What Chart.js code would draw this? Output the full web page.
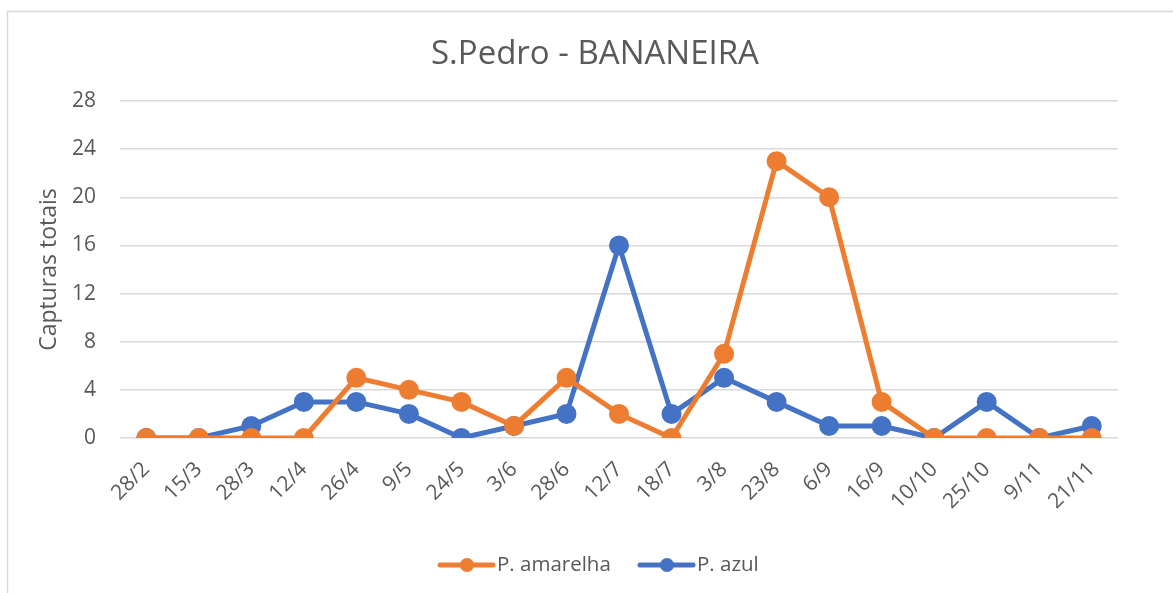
<!DOCTYPE html>
<html>
<head>
<meta charset="utf-8">
<script src="https://cdn.jsdelivr.net/npm/chart.js@4"></script>
<style>
  html, body { margin: 0; padding: 0; background: #fff; }
  #zone { width: 1173px; height: 593px; position: relative; }
</style>
</head>
<body>
<div id="zone"><canvas id="graphique"></canvas></div>
<script>
// dados
const datas = ['28/2', '15/3', '28/3', '12/4', '26/4', '9/5', '24/5', '3/6', '28/6', '12/7',
               '18/7', '3/8', '23/8', '6/9', '16/9', '10/10', '25/10', '9/11', '21/11'];
const amarelha = [0, 0, 0, 0, 5, 4, 3, 1, 5, 2, 0, 7, 23, 20, 3, 0, 0, 0, 0];
const azul = [0, 0, 1, 3, 3, 2, 0, 1, 2, 16, 2, 5, 3, 1, 1, 0, 3, 0, 1];
const ticksY = [0, 4, 8, 12, 16, 20, 24, 28];

const titulo = 'S.Pedro - BANANEIRA';
const tituloEixo = 'Capturas totais';

const fonte = '"Open Sans", sans-serif';
const cinza = '#595959';
const laranja = '#ED7D31';
const azulCor = '#4472C4';

// moldura, título e legenda desenhados à mão
const decoracao = {
    id: 'decoracao',
    beforeDraw(chart) {
        const ctx = chart.ctx;
        ctx.save();
        ctx.strokeStyle = '#d9d9d9';
        ctx.lineWidth = 1.5;
        ctx.strokeRect(7.5, 11.5, chart.width, chart.height);
        ctx.restore();
    },
    afterDraw(chart) {
        const ctx = chart.ctx;
        ctx.save();
        ctx.fillStyle = cinza;
        ctx.font = '33px ' + fonte;
        ctx.textAlign = 'center';
        ctx.textBaseline = 'middle';
        ctx.fillText(titulo, 595, 55);

        // legenda
        ctx.font = '20.5px ' + fonte;
        ctx.textAlign = 'left';
        const posicoes = [440, 640];
        chart.data.datasets.forEach((ds, i) => {
            const x = posicoes[i];
            const y = 565;
            ctx.strokeStyle = ds.borderColor;
            ctx.lineWidth = 5;
            ctx.lineCap = 'round';
            ctx.beginPath();
            ctx.moveTo(x, y);
            ctx.lineTo(x + 53, y);
            ctx.stroke();
            ctx.fillStyle = ds.borderColor;
            ctx.beginPath();
            ctx.arc(x + 27, y, 7, 0, Math.PI * 2);
            ctx.fill();
            ctx.fillStyle = cinza;
            ctx.fillText(ds.label, x + 57, y);
        });
        ctx.restore();
    }
};

const ctx = document.getElementById('graphique').getContext('2d');
new Chart(ctx, {
    type: 'line',
    data: {
        labels: datas,
        datasets: [
            {
                label: 'P. amarelha',
                data: amarelha,
                borderColor: laranja,
                backgroundColor: laranja,
                borderWidth: 5,
                pointRadius: 7.5,
                pointHoverRadius: 7.5,
                tension: 0
            },
            {
                label: 'P. azul',
                data: azul,
                borderColor: azulCor,
                backgroundColor: azulCor,
                borderWidth: 5,
                pointRadius: 7.5,
                pointHoverRadius: 7.5,
                tension: 0
            }
        ]
    },
    options: {
        responsive: true,
        maintainAspectRatio: false,
        animation: false,
        layout: {
            padding: { left: 36, top: 101, right: 55, bottom: 0 }
        },
        plugins: {
            legend: { display: false },
            title: { display: false },
            tooltip: { enabled: false }
        },
        scales: {
            x: {
                offset: true,
                afterFit: (scale) => { scale.height = 593 - 438; },
                grid: { display: false, drawTicks: false },
                border: { display: false },
                ticks: {
                    color: cinza,
                    font: { family: fonte, size: 21 },
                    maxRotation: 45,
                    minRotation: 45,
                    padding: 19,
                    autoSkip: false
                }
            },
            y: {
                min: 0,
                max: 28,
                afterFit: (scale) => { scale.width = 120 - 36; },
                afterBuildTicks: (scale) => {
                    scale.ticks = ticksY.map(v => ({ value: v }));
                },
                grid: { color: '#d9d9d9', lineWidth: 1.5, drawTicks: false },
                border: { display: false },
                title: {
                    display: true,
                    text: tituloEixo,
                    color: cinza,
                    font: { family: fonte, size: 23 },
                    padding: 0
                },
                ticks: {
                    color: cinza,
                    font: { family: fonte, size: 21 },
                    padding: 24
                }
            }
        }
    },
    plugins: [decoracao]
});
</script>
</body>
</html>
